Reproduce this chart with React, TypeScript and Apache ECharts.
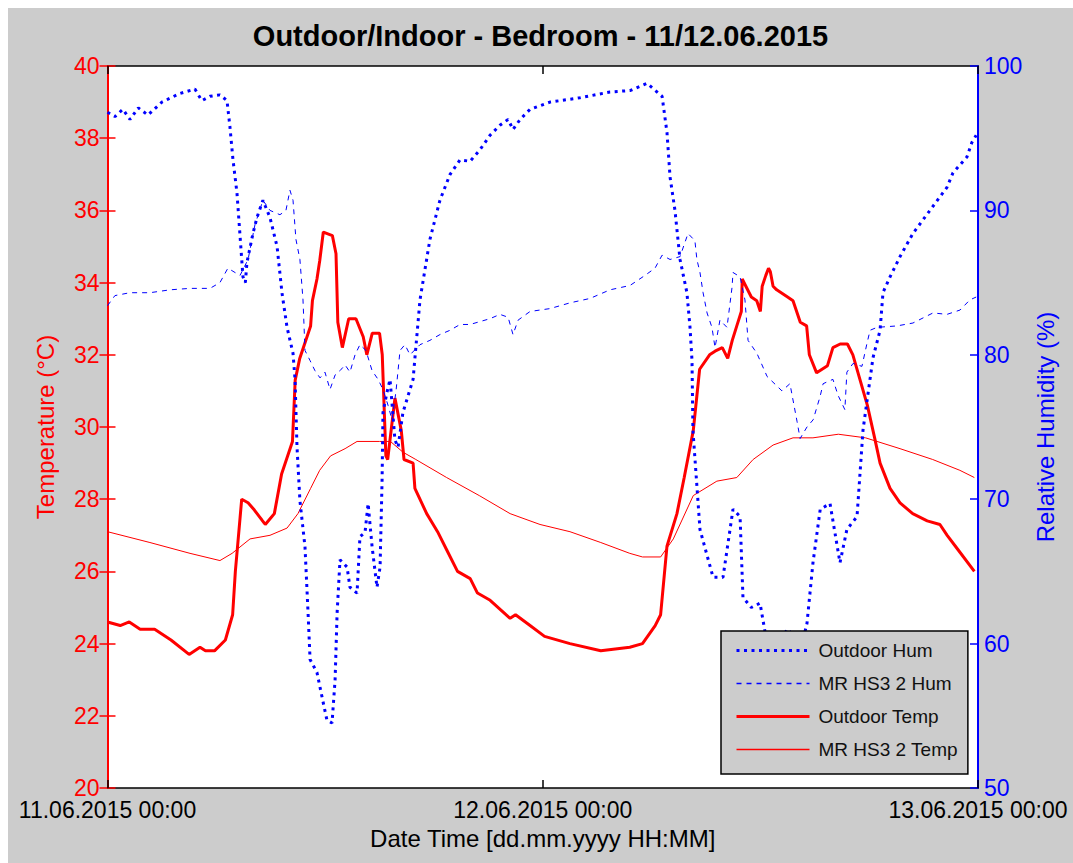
import React, { useEffect, useRef } from 'react';
import * as echarts from 'echarts';

const chartTitle = 'Outdoor/Indoor - Bedroom - 11/12.06.2015';
const xTickLabels = ['11.06.2015 00:00', '12.06.2015 00:00', '13.06.2015 00:00'];
const xAxisName = 'Date Time [dd.mm.yyyy HH:MM]';
const tempAxisName = 'Temperature (°C)';
const humAxisName = 'Relative Humidity (%)';
const seriesNames = ['Outdoor Hum', 'MR HS3 2 Hum', 'Outdoor Temp', 'MR HS3 2 Temp'];

// [hours since 11.06.2015 00:00, °C]
const outdoorTemp: [number, number][] = [
  [0.0, 24.6], [0.7, 24.5], [1.2, 24.6], [1.8, 24.4], [2.6, 24.4], [3.5, 24.1], [4.5, 23.7], [5.1, 23.9],
  [5.4, 23.8], [5.9, 23.8], [6.5, 24.1], [6.9, 24.8], [7.05, 26.0], [7.4, 28.0], [7.75, 27.9], [8.1, 27.7],
  [8.7, 27.3], [9.2, 27.6], [9.6, 28.7], [10.2, 29.6], [10.35, 31.3], [10.6, 31.9], [11.2, 32.8], [11.3, 33.5],
  [11.55, 34.1], [11.7, 34.6], [11.9, 35.4], [12.4, 35.3], [12.6, 34.8], [12.7, 32.9], [12.95, 32.2], [13.3, 33.0],
  [13.7, 33.0], [14.1, 32.5], [14.3, 32.0], [14.6, 32.6], [15.0, 32.6], [15.15, 32.0], [15.2, 31.3], [15.35, 29.2],
  [15.45, 29.1], [15.85, 30.8], [16.2, 29.9], [16.35, 29.1], [16.85, 29.0], [16.95, 28.3], [17.6, 27.6], [18.2, 27.1],
  [18.7, 26.6], [19.3, 26.0], [20.0, 25.8], [20.4, 25.4], [21.1, 25.2], [22.2, 24.7], [22.5, 24.8], [23.3, 24.5],
  [24.1, 24.2], [25.5, 24.0], [27.2, 23.8], [28.8, 23.9], [29.5, 24.0], [30.2, 24.5], [30.5, 24.8], [30.85, 26.7],
  [31.4, 27.6], [31.8, 28.6], [32.3, 29.9], [32.65, 31.6], [33.2, 32.0], [33.5, 32.1], [33.9, 32.2], [34.2, 31.9],
  [34.45, 32.4], [34.7, 32.8], [34.95, 33.2], [35.0, 34.1], [35.2, 33.9], [35.5, 33.6], [35.8, 33.5], [36.0, 33.2],
  [36.1, 33.9], [36.3, 34.2], [36.45, 34.4], [36.55, 34.3], [36.7, 33.9], [36.9, 33.8], [37.5, 33.6], [37.8, 33.5],
  [38.0, 33.2], [38.2, 32.9], [38.55, 32.8], [38.7, 32.0], [39.1, 31.5], [39.7, 31.7], [40.0, 32.2], [40.4, 32.3],
  [40.8, 32.3], [41.1, 32.0], [41.5, 31.3], [41.9, 30.6], [42.3, 29.7], [42.6, 29.0], [43.15, 28.3], [43.7, 27.9],
  [44.4, 27.6], [45.2, 27.4], [45.9, 27.3], [46.3, 27.0], [46.9, 26.6], [47.8, 26.0],
];

const mrTemp: [number, number][] = [
  [0.0, 27.1], [2.34, 26.8], [4.55, 26.5], [6.2, 26.3], [6.87, 26.5], [7.86, 26.9], [8.96, 27.0], [9.9, 27.2],
  [10.5, 27.6], [11.2, 28.3], [11.7, 28.8], [12.3, 29.2], [13.1, 29.4], [13.76, 29.6], [15.0, 29.6], [15.6, 29.6],
  [16.3, 29.3], [17.0, 29.1], [18.7, 28.6], [20.5, 28.1], [22.2, 27.6], [23.85, 27.3], [25.5, 27.1], [27.2, 26.8],
  [28.8, 26.5], [29.5, 26.4], [30.5, 26.4], [31.2, 26.9], [32.3, 28.1], [33.6, 28.5], [34.7, 28.6], [35.6, 29.1],
  [36.7, 29.5], [37.8, 29.7], [38.9, 29.7], [40.3, 29.8], [41.8, 29.7], [43.7, 29.4], [45.5, 29.1], [47.0, 28.8],
  [47.8, 28.6],
];

// [hours, %]
const outdoorHum: [number, number][] = [
  [0.0, 96.8], [0.41, 96.5], [0.85, 97.0], [1.24, 96.3], [1.7, 97.1], [2.23, 96.6], [3.0, 97.5], [4.0, 98.1],
  [4.82, 98.4], [5.2, 97.6], [5.65, 97.9], [6.2, 98.0], [6.59, 97.6], [6.75, 95.8], [6.92, 93.5], [7.14, 91.2],
  [7.31, 88.2], [7.47, 85.4], [7.6, 85.0], [7.69, 86.4], [8.02, 88.4], [8.24, 89.5], [8.57, 90.7], [8.96, 89.5],
  [9.35, 87.5], [9.62, 84.3], [9.9, 81.9], [10.23, 80.1], [10.34, 78.3], [10.45, 73.6], [10.61, 69.9], [10.89, 66.7],
  [11.06, 62.1], [11.17, 58.9], [11.55, 58.0], [11.83, 56.3], [12.1, 54.7], [12.38, 54.5], [12.55, 57.5], [12.66, 62.1],
  [12.82, 65.8], [13.21, 65.3], [13.37, 63.9], [13.76, 63.5], [13.92, 67.4], [14.2, 67.7], [14.37, 69.7], [14.59, 66.7],
  [14.86, 63.9], [15.03, 65.3], [15.14, 71.3], [15.19, 76.0], [15.41, 77.4], [15.58, 78.3], [15.85, 74.1], [16.02, 73.6],
  [16.29, 76.0], [16.85, 78.3], [17.23, 83.8], [17.78, 88.0], [18.33, 90.7], [18.89, 92.5], [19.44, 93.5], [19.99, 93.4],
  [20.54, 94.2], [21.09, 95.2], [21.64, 95.9], [22.09, 96.3], [22.36, 95.6], [22.75, 96.3], [23.3, 97.0], [24.4, 97.5],
  [26.05, 97.8], [27.71, 98.2], [28.81, 98.3], [29.75, 98.8], [30.58, 97.9], [30.85, 95.4], [31.02, 92.3], [31.29, 90.0],
  [31.57, 86.6], [31.95, 84.3], [32.12, 81.9], [32.23, 79.6], [32.28, 74.8], [32.67, 67.9], [33.39, 64.6], [33.94, 64.6],
  [34.49, 69.3], [34.88, 68.8], [35.04, 63.2], [35.5, 62.5], [35.98, 62.8], [36.3, 60.5], [36.9, 59.5], [37.47, 61.0],
  [37.9, 60.5], [38.3, 60.0], [38.57, 61.4], [38.9, 65.6], [39.3, 69.3], [39.84, 69.7], [40.39, 65.6], [40.77, 67.9],
  [41.33, 68.8], [41.66, 74.8], [42.21, 79.8], [42.6, 81.7], [42.76, 84.3], [43.15, 85.4], [43.7, 86.8], [44.41, 88.4],
  [45.35, 90.0], [46.29, 91.6], [46.62, 92.6], [47.39, 93.7], [47.66, 94.7], [47.9, 95.2],
];

const mrHum: [number, number][] = [
  [0.0, 83.4], [0.41, 84.1], [1.24, 84.3], [2.34, 84.3], [3.45, 84.5], [4.55, 84.6], [5.65, 84.6], [6.2, 85.0],
  [6.64, 86.0], [7.03, 85.7], [7.31, 85.5], [7.75, 86.6], [8.13, 89.0], [8.57, 90.7], [8.96, 90.0], [9.51, 89.7],
  [9.84, 90.0], [10.06, 91.4], [10.23, 90.7], [10.39, 88.0], [10.61, 86.6], [10.78, 83.8], [10.89, 80.3], [11.17, 79.6],
  [11.44, 78.9], [11.72, 78.4], [11.99, 78.8], [12.27, 77.6], [12.55, 78.6], [12.82, 78.9], [13.1, 79.3], [13.37, 78.8],
  [13.65, 80.0], [13.92, 80.7], [14.25, 80.3], [14.59, 78.9], [14.92, 78.3], [15.19, 77.6], [15.47, 76.5], [15.69, 75.5],
  [15.91, 77.5], [16.13, 80.3], [16.4, 80.7], [16.68, 80.0], [17.23, 80.7], [17.78, 81.0], [18.33, 81.4], [18.89, 81.7],
  [19.44, 82.1], [19.99, 82.1], [20.54, 82.3], [21.09, 82.5], [21.64, 82.8], [22.09, 82.6], [22.36, 81.4], [22.64, 82.4],
  [23.3, 83.0], [24.4, 83.2], [25.51, 83.6], [26.6, 83.9], [27.71, 84.5], [28.81, 84.8], [29.64, 85.5], [30.19, 86.0],
  [30.58, 86.9], [31.02, 86.6], [31.57, 86.8], [32.01, 88.4], [32.39, 87.9], [32.5, 86.6], [32.67, 85.7], [32.84, 84.3],
  [33.06, 82.9], [33.33, 81.9], [33.5, 80.5], [33.77, 82.4], [34.16, 81.9], [34.44, 84.7], [34.49, 85.7], [34.88, 85.4],
  [35.15, 83.8], [35.32, 81.0], [35.81, 80.1], [36.37, 78.5], [37.19, 77.5], [37.63, 78.0], [38.02, 75.4], [38.19, 74.2],
  [38.57, 75.0], [38.91, 75.5], [39.29, 77.1], [39.46, 78.0], [40.0, 78.3], [40.28, 77.2], [40.66, 76.2], [40.77, 78.8],
  [41.11, 79.4], [41.6, 79.2], [41.88, 80.8], [42.05, 81.7], [42.43, 81.9], [43.53, 82.0], [44.41, 82.2], [45.52, 82.9],
  [46.29, 82.8], [47.01, 83.1], [47.55, 83.8], [47.9, 84.0],
];

const FONT = "'Liberation Sans', Arial, Helvetica, sans-serif";
const RED = '#FF0000';
const BLUE = '#0000FF';
const BG = '#CCCCCC';

// legend line styles, in the same order as seriesNames
const legendColors = [BLUE, BLUE, RED, RED];
const legendWidths = [3, 1.5, 3, 1.5];
const legendDashes: any[] = [[3, 4.5], [5, 5], 'solid', 'solid'];

export default function App() {
  const ref = useRef<HTMLDivElement>(null);

  useEffect(() => {
    if (!ref.current) return;
    const chart = echarts.init(ref.current, undefined, { renderer: 'svg' });
    const grid = { left: 99.5, right: 95, top: 58, bottom: 75 };
    chart.setOption({
      animation: false,
      backgroundColor: BG,
      textStyle: { fontFamily: FONT },
      title: {
        text: chartTitle,
        left: 'center',
        top: 8,
        textStyle: { fontSize: 29, fontWeight: 'bold', color: '#000', fontFamily: FONT },
      },
      grid: { ...grid, show: true, backgroundColor: '#FFFFFF', borderWidth: 0 },
      legend: {
        orient: 'vertical',
        left: 713,
        top: 623,
        data: seriesNames.map((name, i) => ({
          name,
          itemStyle: { opacity: 0 },
          lineStyle: { color: legendColors[i], width: legendWidths[i], type: legendDashes[i] },
        })),
        itemWidth: 73,
        itemHeight: 20,
        itemGap: 14,
        padding: [10, 10, 15, 14],
        backgroundColor: BG,
        borderColor: '#000',
        borderWidth: 1.5,
        selectedMode: false,
        textStyle: { fontSize: 19, color: '#111', fontFamily: FONT, padding: [0, 0, 0, 4] },
      },
      xAxis: [
        {
          type: 'value',
          min: 0,
          max: 48,
          interval: 24,
          position: 'bottom',
          axisLine: { show: true, onZero: false, lineStyle: { color: '#000', width: 1.5 } },
          axisTick: { show: true, inside: true, length: 8, lineStyle: { color: '#000', width: 1.5 } },
          axisLabel: {
            color: '#000',
            fontSize: 23,
            fontFamily: FONT,
            margin: 10,
            formatter: (v: number) => xTickLabels[Math.round(v / 24)] ?? '',
          },
          splitLine: { show: false },
          name: xAxisName,
          nameLocation: 'middle',
          nameGap: 38,
          nameTextStyle: { color: '#000', fontSize: 24, fontFamily: FONT },
        },
        {
          type: 'value',
          min: 0,
          max: 48,
          interval: 24,
          position: 'top',
          axisLine: { show: true, onZero: false, lineStyle: { color: '#000', width: 1.5 } },
          axisTick: { show: true, inside: true, length: 8, lineStyle: { color: '#000', width: 1.5 } },
          axisLabel: { show: false },
          splitLine: { show: false },
        },
      ],
      yAxis: [
        {
          type: 'value',
          min: 20,
          max: 40,
          interval: 2,
          position: 'left',
          axisLine: { show: true, onZero: false, lineStyle: { color: RED, width: 2 } },
          axisTick: { show: true, inside: true, length: 8, lineStyle: { color: RED, width: 1.5 } },
          axisLabel: { color: RED, fontSize: 23, fontFamily: FONT, margin: 8 },
          splitLine: { show: false },
          name: tempAxisName,
          nameLocation: 'middle',
          nameRotate: 90,
          nameGap: 50,
          nameTextStyle: { color: RED, fontSize: 24, fontFamily: FONT },
        },
        {
          type: 'value',
          min: 50,
          max: 100,
          interval: 10,
          position: 'right',
          axisLine: { show: true, onZero: false, lineStyle: { color: BLUE, width: 2 } },
          axisTick: { show: true, inside: true, length: 8, lineStyle: { color: BLUE, width: 1.5 } },
          axisLabel: { color: BLUE, fontSize: 23, fontFamily: FONT, margin: 6 },
          splitLine: { show: false },
          name: humAxisName,
          nameLocation: 'middle',
          nameRotate: 90,
          nameGap: 42,
          nameTextStyle: { color: BLUE, fontSize: 24, fontFamily: FONT },
        },
        {
          type: 'value',
          min: 20,
          max: 40,
          interval: 2,
          position: 'right',
          axisLine: { show: false },
          axisTick: { show: true, inside: true, length: 8, lineStyle: { color: RED, width: 1.5 } },
          axisLabel: { show: false },
          splitLine: { show: false },
        },
      ],
      series: [
        {
          name: seriesNames[2],
          type: 'line',
          xAxisIndex: 0,
          yAxisIndex: 0,
          data: outdoorTemp,
          symbol: 'none',
          lineStyle: { color: RED, width: 3, type: 'solid' },
          itemStyle: { color: RED },
        },
        {
          name: seriesNames[3],
          type: 'line',
          xAxisIndex: 0,
          yAxisIndex: 0,
          data: mrTemp,
          symbol: 'none',
          lineStyle: { color: RED, width: 1, type: 'solid' },
          itemStyle: { color: RED },
        },
        {
          name: seriesNames[0],
          type: 'line',
          xAxisIndex: 0,
          yAxisIndex: 1,
          data: outdoorHum,
          symbol: 'none',
          lineStyle: { color: BLUE, width: 3, type: [3, 4.5] },
          itemStyle: { color: BLUE },
        },
        {
          name: seriesNames[1],
          type: 'line',
          xAxisIndex: 0,
          yAxisIndex: 1,
          data: mrHum,
          symbol: 'none',
          lineStyle: { color: BLUE, width: 1, type: [5, 5] },
          itemStyle: { color: BLUE },
        },
      ],
    });
    return () => chart.dispose();
  }, []);

  return (
    <div
      ref={ref}
      style={{ position: 'fixed', left: 8, top: 8, width: 1065, height: 855 }}
    />
  );
}
